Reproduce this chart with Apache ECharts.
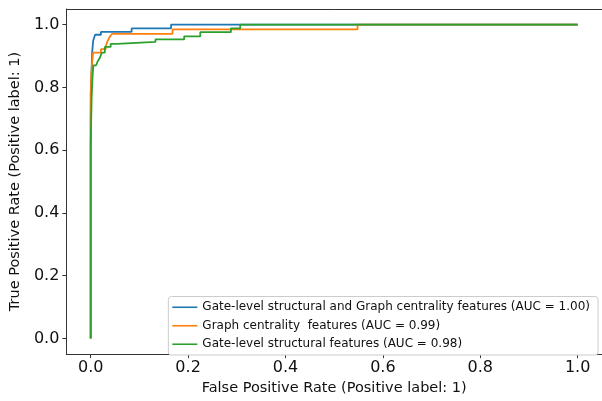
<!DOCTYPE html>
<html>
<head>
<meta charset="utf-8">
<script src="https://cdn.jsdelivr.net/npm/echarts@6/dist/echarts.min.js"></script>
<style>
html,body{margin:0;padding:0;background:#fff;}
#chart{width:602px;height:401px;}
</style>
</head>
<body>
<div id="chart"></div>
<script>
const seriesNames = [
  'Gate-level structural and Graph centrality features (AUC = 1.00)',
  'Graph centrality  features (AUC = 0.99)',
  'Gate-level structural features (AUC = 0.98)'
];
const tickValues = [0, 0.2, 0.4, 0.6, 0.8, 1.0];

// ROC points [FPR, TPR]
const rocCombined = [
  [0,0],[0,0.78],[0.002,0.86],[0.003,0.911],[0.005,0.948],[0.009,0.953],[0.009,0.968],
  [0.021,0.968],[0.021,0.977],[0.084,0.977],[0.084,0.988],[0.165,0.988],[0.165,1.0],[1,1]
];
const rocCentrality = [
  [0,0],[0,0.70],[0.001,0.84],[0.003,0.88],[0.005,0.911],[0.021,0.911],[0.021,0.922],
  [0.031,0.922],[0.031,0.932],[0.034,0.945],[0.037,0.955],[0.040,0.963],[0.044,0.971],
  [0.168,0.971],[0.168,0.985],[0.548,0.985],[0.548,1.0],[1,1]
];
const rocStructural = [
  [0,0],[0,0.62],[0.002,0.77],[0.004,0.84],[0.0055,0.87],[0.011,0.87],[0.014,0.882],
  [0.018,0.892],[0.023,0.911],[0.029,0.911],[0.029,0.929],[0.041,0.929],[0.041,0.939],
  [0.054,0.939],[0.054,0.945],[0.133,0.945],[0.133,0.953],[0.192,0.953],[0.192,0.963],
  [0.225,0.963],[0.225,0.976],[0.288,0.976],[0.288,0.988],[0.307,0.988],[0.307,1.0],[1,1]
];

const colors = ['#1f77b4', '#ff7f0e', '#2ca02c'];
const datasets = [rocCombined, rocCentrality, rocStructural];

const chart = echarts.init(document.getElementById('chart'), null, {renderer: 'canvas'});
const font = 'DejaVu Sans';
chart.setOption({
  animation: false,
  color: colors,
  grid: {left: 63.5, top: 9, width: 540, height: 351, show: false, containLabel: false},
  xAxis: [{
    type: 'value', min: -0.05, max: 1.05, position: 'bottom',
    name: 'False Positive Rate (Positive label: 1)', nameLocation: 'middle', nameGap: 22,
    nameTextStyle: {fontFamily: font, fontSize: 14.5, color: '#111'},
    axisLine: {show: true, onZero: false, lineStyle: {color: '#333', width: 1}},
    axisTick: {show: true, inside: false, length: 4, lineStyle: {color: '#333'}, customValues: tickValues},
    axisLabel: {fontFamily: font, fontSize: 16, color: '#111', margin: 6, customValues: tickValues,
      formatter: v => v.toFixed(1)},
    splitLine: {show: false}
  }, {
    type: 'value', min: -0.05, max: 1.05, position: 'top',
    axisLine: {show: true, onZero: false, lineStyle: {color: '#333', width: 1}},
    axisTick: {show: false}, axisLabel: {show: false}, splitLine: {show: false}
  }],
  yAxis: {
    type: 'value', min: -0.05, max: 1.05,
    name: 'True Positive Rate (Positive label: 1)', nameLocation: 'middle', nameGap: 37,
    nameTextStyle: {fontFamily: font, fontSize: 14.5, color: '#111'},
    axisLine: {show: true, onZero: false, lineStyle: {color: '#333', width: 1}},
    axisTick: {show: true, inside: false, length: 4, lineStyle: {color: '#333'}, customValues: tickValues},
    axisLabel: {fontFamily: font, fontSize: 16, color: '#111', margin: 7, customValues: tickValues,
      formatter: v => v.toFixed(1)},
    splitLine: {show: false}
  },
  legend: {
    orient: 'vertical', right: 4, bottom: 46,
    icon: 'rect', itemWidth: 25, itemHeight: 1.6, itemGap: 3,
    padding: [3, 8, 3, 4],
    backgroundColor: '#fff', borderColor: '#ccc', borderWidth: 1, borderRadius: 3,
    textStyle: {fontFamily: font, fontSize: 12, color: '#111', lineHeight: 15.5},
    data: seriesNames
  },
  series: datasets.map((d, i) => ({
    name: seriesNames[i], type: 'line', data: d, showSymbol: false, symbol: 'none',
    xAxisIndex: 0,
    lineStyle: {width: 1.8, color: colors[i]}, itemStyle: {color: colors[i]}, z: 2 + i
  }))
});
</script>
</body>
</html>
